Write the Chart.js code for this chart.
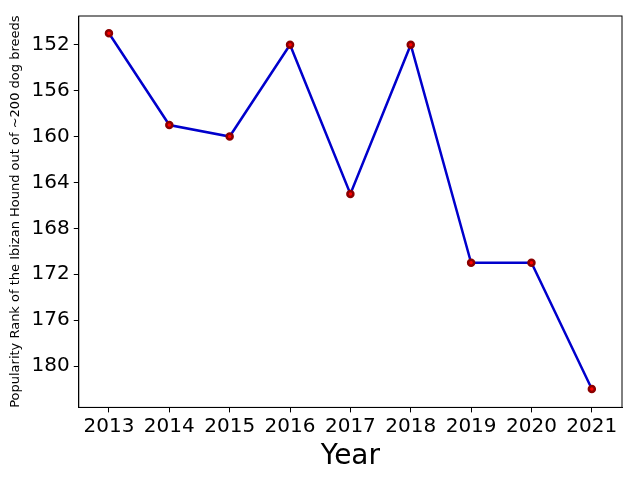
<!DOCTYPE html>
<html>
<head>
<script src="https://cdn.jsdelivr.net/npm/chart.js@4"></script>
<style>html,body{margin:0;padding:0;background:#fff}#wrap{width:640px;height:480px}</style>
</head>
<body>
<div id="wrap"><canvas id="c" width="640" height="480"></canvas></div>
<script>
var years = ['2013', '2014', '2015', '2016', '2017', '2018', '2019', '2020', '2021'];
var ranks = [151, 159, 160, 152, 165, 152, 171, 171, 182];

new Chart(document.getElementById('c'), {
    type: 'line',
    data: {
        labels: years,
        datasets: [{
            data: ranks,
            borderColor: '#0000cc',
            borderWidth: 2.5,
            pointBackgroundColor: 'red',
            pointBorderColor: '#8b0000',
            pointRadius: 3,
            tension: 0
        }]
    },
    options: {
        responsive: false,
        animation: false,
        layout: { padding: { top: 16, right: 18, left: 4, bottom: 6 } },
        plugins: { legend: { display: false }, tooltip: { enabled: false } },
        scales: {
            x: {
                offset: true,
                grid: { drawOnChartArea: false, color: '#000', tickLength: 5 },
                border: { color: '#000' },
                ticks: { color: '#000', padding: 2, font: { family: 'DejaVu Sans', size: 20 } },
                title: { display: true, text: 'Year', color: '#000', padding: 0, font: { family: 'DejaVu Sans', size: 28 } }
            },
            y: {
                reverse: true,
                min: 149.5,
                max: 183.6,
                afterBuildTicks: function(axis) {
                    axis.ticks = [152, 156, 160, 164, 168, 172, 176, 180].map(function(v) { return { value: v }; });
                },
                grid: { drawOnChartArea: false, color: '#000', tickLength: 5 },
                border: { color: '#000' },
                ticks: { color: '#000', padding: 4, font: { family: 'DejaVu Sans', size: 20 } },
                title: { display: true, text: 'Popularity Rank of the Ibizan Hound out of ~200 dog breeds', color: '#000', font: { family: 'DejaVu Sans', size: 13 }, padding: 4 }
            }
        }
    },
    plugins: [{
        id: 'frame',
        afterDraw: function(chart) {
            var a = chart.chartArea, ctx = chart.ctx;
            ctx.save();
            ctx.strokeStyle = '#000';
            ctx.lineWidth = 1;
            ctx.strokeRect(a.left, a.top, a.right - a.left, a.bottom - a.top);
            ctx.restore();
        }
    }]
});
</script>
</body>
</html>
